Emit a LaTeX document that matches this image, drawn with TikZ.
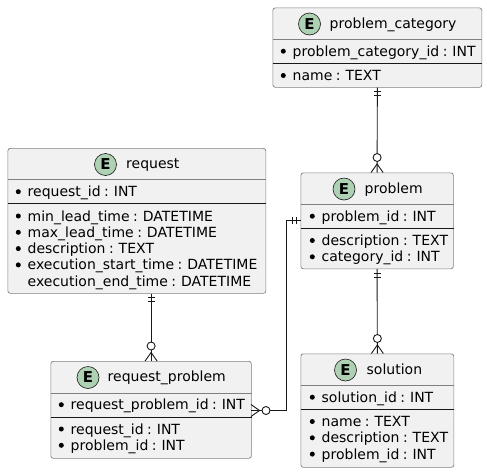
\documentclass[tikz,border=0pt]{standalone}
\usepackage{fontspec}
\setmainfont{DejaVu Sans}
\definecolor{boxfill}{HTML}{F1F1F1}
\definecolor{spotfill}{HTML}{ADD1B2}
\definecolor{inkline}{HTML}{181818}
\definecolor{boxline}{HTML}{808080}
\begin{document}
\begin{tikzpicture}[x=1pt,y=-1pt,font=\fontsize{14}{16}\selectfont\spaceskip 3.5pt\relax]
\tikzstyle{entity}=[draw=boxline,fill=boxfill,line width=0.7pt,rounded corners=2.5pt,anchor=north west,inner sep=0pt]
\tikzstyle{spot}=[draw=inkline,fill=spotfill,shape=circle,minimum size=22pt,inner sep=0pt,line width=0.6pt,font=\fontsize{15}{16}\bfseries\selectfont]
\tikzstyle{plain}=[anchor=base west,inner sep=0pt,text height=12pt,text depth=2pt,text=black]
\tikzstyle{attr}=[plain,label={[shape=circle,fill=black,inner sep=0pt,minimum size=5pt,xshift=-6.5pt]left:{}}]
\tikzstyle{link}=[draw=inkline,line width=0.9pt]
\tikzstyle{rule}=[draw=inkline,line width=0.9pt]
\tikzstyle{titlerule}=[draw=boxline,line width=0.7pt]
\tikzset{
  onemark/.pic={\draw[link] (4,-3.5) -- (4,3.5) (8,-3.5) -- (8,3.5);},
  manymark/.pic={\draw[link] (0,-6) -- (8.5,0) -- (0,6);
    \draw[link,fill=white] (15,0) circle (4);}
}
\useasboundingbox (0,0) rectangle (487,472);

% problem_category
\node[entity,minimum width=209pt,minimum height=79.5pt] (category) at (272.5,7.5) {};
\node[spot] (categoryspot) at (309.5,24) {E};
\path (329.5,28.3) node[plain] (categorytitle) {problem\_category}
 (292.5,56.2) node[attr] (categoryid) {problem\_category\_id : INT}
 (292.5,80.5) node[attr] (categoryname) {name : TEXT};
\draw[titlerule] (category.west |- 0,39.5) -- (category.east |- 0,39.5);
\draw[rule] (category.west |- 0,63) -- (category.east |- 0,63);

% problem
\node[entity,minimum width=152.5pt,minimum height=96pt] (problem) at (300.5,172.5) {};
\node[spot] (problemspot) at (344,189) {E};
\path (364.5,193.3) node[plain] (problemtitle) {problem}
 (321.5,221.2) node[attr] (problemid) {problem\_id : INT}
 (321.5,245.5) node[attr] (problemdesc) {description : TEXT}
 (321.5,261.8) node[attr] (problemcat) {category\_id : INT};
\draw[titlerule] (problem.west |- 0,204.5) -- (problem.east |- 0,204.5);
\draw[rule] (problem.west |- 0,228) -- (problem.east |- 0,228);

% request
\node[entity,minimum width=258pt,minimum height=145pt] (request) at (7.5,148) {};
\node[spot] (requestspot) at (105.5,164.5) {E};
\path (126,168.8) node[plain] (requesttitle) {request}
 (27.5,196.7) node[attr] (requestid) {request\_id : INT}
 (27.5,221) node[attr] (requestmin) {min\_lead\_time : DATETIME}
 (27.5,237.3) node[attr] (requestmax) {max\_lead\_time : DATETIME}
 (27.5,253.6) node[attr] (requestdesc) {description : TEXT}
 (27.5,269.9) node[attr] (requeststart) {execution\_start\_time : DATETIME}
 (27.5,286.2) node[plain] (requestend) {execution\_end\_time : DATETIME};
\draw[titlerule] (request.west |- 0,179.5) -- (request.east |- 0,179.5);
\draw[rule] (request.west |- 0,203) -- (request.east |- 0,203);

% request_problem
\node[entity,minimum width=200.5pt,minimum height=97pt] (reqprob) at (50.5,361) {};
\node[spot] (reqprobspot) at (88,377.5) {E};
\path (107.5,381.8) node[plain] (reqprobtitle) {request\_problem}
 (70.5,409.7) node[attr] (reqprobid) {request\_problem\_id : INT}
 (70.5,434) node[attr] (reqprobreq) {request\_id : INT}
 (70.5,450.3) node[attr] (reqprobprob) {problem\_id : INT};
\draw[titlerule] (reqprob.west |- 0,393) -- (reqprob.east |- 0,393);
\draw[rule] (reqprob.west |- 0,417) -- (reqprob.east |- 0,417);

% solution
\node[entity,minimum width=153pt,minimum height=113.5pt] (solution) at (300.5,353.5) {};
\node[spot] (solutionspot) at (345.5,370) {E};
\path (366.5,374.3) node[plain] (solutiontitle) {solution}
 (321.5,402.2) node[attr] (solutionid) {solution\_id : INT}
 (321.5,426.5) node[attr] (solutionname) {name : TEXT}
 (321.5,442.8) node[attr] (solutiondesc) {description : TEXT}
 (321.5,459.1) node[attr] (solutionprob) {problem\_id : INT};
\draw[titlerule] (solution.west |- 0,385.5) -- (solution.east |- 0,385.5);
\draw[rule] (solution.west |- 0,409.5) -- (solution.east |- 0,409.5);

% connectors
\coordinate (reqtop) at (reqprob.north |- request.south);
\coordinate (probstart) at (300.5,220);
\coordinate (reqprobend) at (251,410.5);
\draw[link] (category.south) -- (problem.north);
\draw[link] (problem.south) -- (solution.north);
\draw[link] (reqtop) -- (reqprob.north);
\draw[link] (probstart) -- ++(-14,0) |- (reqprobend);

\path (category.south) pic[rotate=-90] {onemark};
\path (problem.north) pic[rotate=90] {manymark};
\path (problem.south) pic[rotate=-90] {onemark};
\path (solution.north) pic[rotate=90] {manymark};
\path (reqtop) pic[rotate=-90] {onemark};
\path (reqprob.north) pic[rotate=90] {manymark};
\path (probstart) pic[rotate=180] {onemark};
\path (reqprobend) pic {manymark};
\end{tikzpicture}
\end{document}
